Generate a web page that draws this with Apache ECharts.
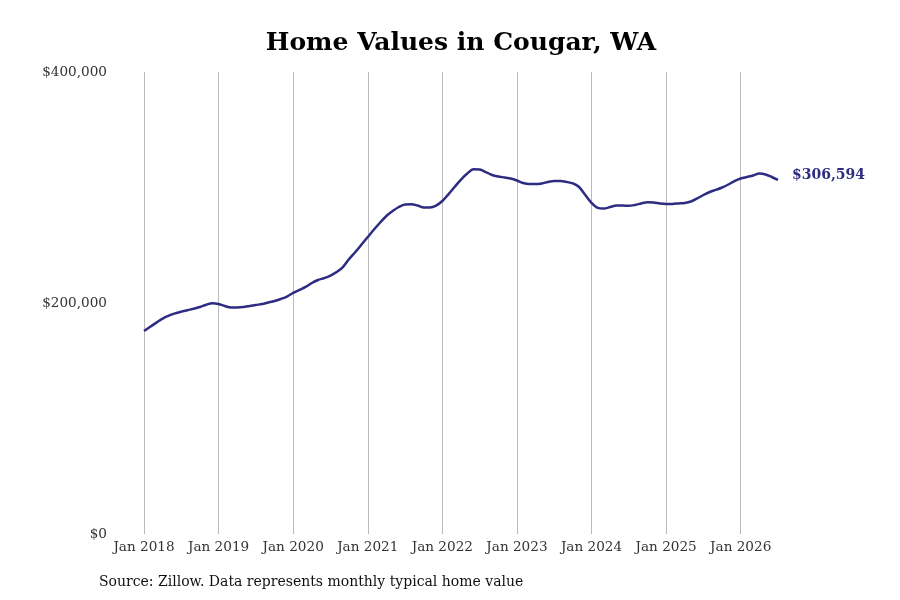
<!DOCTYPE html>
<html>
<head>
<meta charset="utf-8">
<script src="https://cdn.jsdelivr.net/npm/echarts@6/dist/echarts.min.js"></script>
<style>
  html, body { margin: 0; padding: 0; background: #fff; }
  #chart { width: 900px; height: 600px; }
</style>
</head>
<body>
<div id="chart"></div>
<script>
// monthly typical home value, Jan 2018 .. Jul 2026
var years = ['2018', '2019', '2020', '2021', '2022', '2023', '2024', '2025', '2026'];
var monthNames = ['Jan', 'Feb', 'Mar', 'Apr', 'May', 'Jun', 'Jul', 'Aug', 'Sep', 'Oct', 'Nov', 'Dec'];

var values2018 = [175800, 179500, 183000, 186500, 189000, 191000, 192500, 193800, 195000, 196500, 198500, 199800];
var values2019 = [199100, 197400, 196100, 196100, 196500, 197400, 198300, 199100, 200400, 201700, 203500, 205600];
var values2020 = [208700, 211300, 213900, 217300, 219900, 221600, 223800, 226800, 231100, 238100, 244200, 250600];
var values2021 = [257100, 263600, 269700, 275300, 279600, 283100, 285300, 285400, 284400, 282700, 282700, 284400];
var values2022 = [288300, 294300, 300700, 306900, 312100, 315800, 315600, 313400, 310800, 309500, 308700, 307800];
var values2023 = [306100, 303900, 303000, 303000, 303500, 304800, 305600, 305600, 304800, 303500, 300400, 293500];
var values2024 = [286600, 282300, 281800, 283100, 284400, 284400, 284100, 284900, 286200, 287200, 287000, 286200];
var values2025 = [285800, 285800, 286200, 286600, 287900, 290500, 293500, 296100, 297900, 300000, 302600, 305600];
var values2026 = [307800, 309100, 310400, 312100, 311300, 309100, 306594];

var values = [].concat(values2018, values2019, values2020, values2021, values2022,
  values2023, values2024, values2025, values2026);

var months = [];
for (var i = 0; i < values.length; i++) {
  months.push(monthNames[i % 12] + ' ' + years[Math.floor(i / 12)]);
}

var yTicks = [0, 200000, 400000];

var font = 'DejaVu Serif';
var navy = '#2d2c82';

function money(v) {
  return '$' + Math.round(v).toString().replace(/\B(?=(\d{3})+(?!\d))/g, ',');
}

var myChart = echarts.init(document.getElementById('chart'));

var option = {
  backgroundColor: '#fff',
  animation: false,
  grid: { left: 144, right: 122, top: 72, bottom: 66 },
  graphic: [
    {
      // title centred over the plot area
      type: 'text',
      x: 461,
      y: 43,
      style: {
        text: 'Home Values in Cougar, WA',
        font: 'bold 25px "DejaVu Serif"',
        fill: '#000',
        align: 'center',
        verticalAlign: 'middle'
      }
    },
    {
      type: 'text',
      x: 99,
      y: 582,
      style: {
        text: 'Source: Zillow. Data represents monthly typical home value',
        font: '14px "DejaVu Serif"',
        fill: '#111',
        align: 'left',
        verticalAlign: 'middle'
      }
    }
  ],
  xAxis: {
    type: 'category',
    data: months,
    boundaryGap: false,
    axisLine: { show: false },
    axisTick: { show: false },
    axisLabel: {
      interval: function (idx) { return idx % 12 === 0; },
      fontFamily: font,
      fontSize: 13.6,
      color: '#333',
      margin: 6
    },
    splitLine: {
      show: true,
      interval: function (idx) { return idx % 12 === 0; },
      lineStyle: { color: '#bbb', width: 1 }
    }
  },
  yAxis: {
    type: 'value',
    min: yTicks[0],
    max: yTicks[yTicks.length - 1],
    interval: yTicks[1] - yTicks[0],
    axisLine: { show: false },
    axisTick: { show: false },
    splitLine: { show: false },
    axisLabel: {
      formatter: money,
      fontFamily: font,
      fontSize: 13.6,
      color: '#333',
      margin: 37
    }
  },
  series: [{
    type: 'line',
    data: values,
    smooth: 0.3,
    symbol: 'none',
    lineStyle: { color: navy, width: 2.5 },
    endLabel: {
      show: true,
      formatter: function (p) { return money(p.value); },
      fontFamily: font,
      fontSize: 14,
      fontWeight: 'bold',
      color: navy,
      distance: 14,
      offset: [0, -5]
    }
  }]
};

myChart.setOption(option);
</script>
</body>
</html>
